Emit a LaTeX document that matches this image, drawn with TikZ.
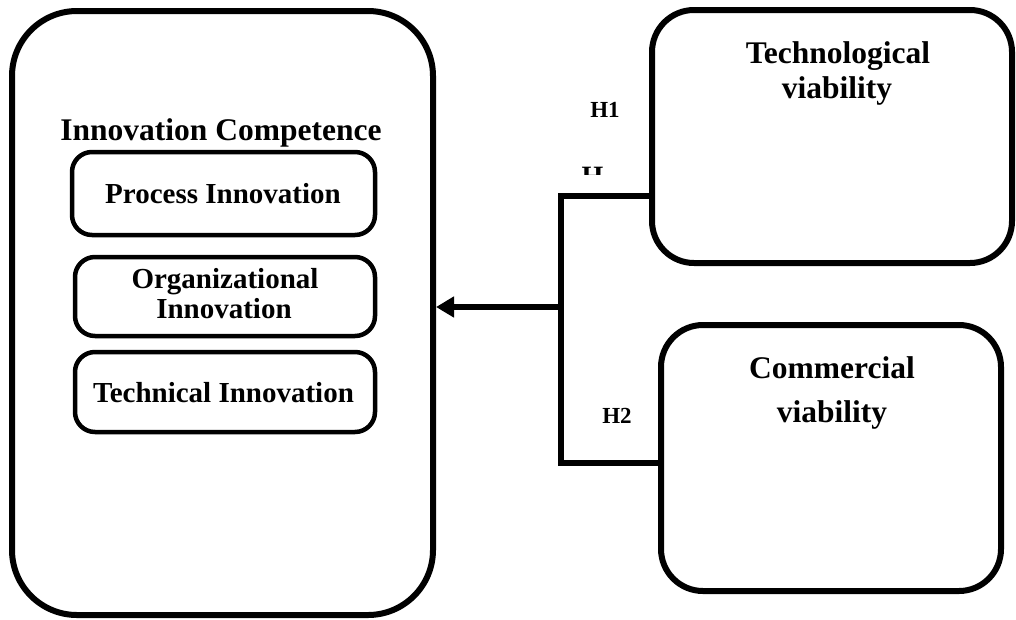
\documentclass[tikz,border=0pt]{standalone}
\usepackage{fontspec}
\setmainfont{Liberation Serif}
\usetikzlibrary{arrows.meta}
\begin{document}
\begin{tikzpicture}[x=1pt,y=-1pt,
  bigbox/.style={draw, line width=6pt, rounded corners=#1, inner sep=0pt},
  subbox/.style={draw, line width=4.5pt, rounded corners=20pt, inner sep=0pt},
  txt/.style={anchor=base, inner sep=0pt, font=\bfseries\fontsize{#1}{#1}\selectfont},
  conn/.style={line width=6pt, line cap=rect},
  arr/.style={line width=6pt, -{Triangle[length=18pt,width=20pt]}}]
\useasboundingbox[fill=white] (0,0) rectangle (1016,619);

% main boxes
\node[bigbox=65pt, minimum width=421pt, minimum height=604pt] (ic) at (222.5,313) {};
\node[bigbox=42pt, minimum width=360pt, minimum height=253pt] (tv) at (832,136.5) {};
\node[bigbox=42pt, minimum width=340pt, minimum height=266pt] (cv) at (831,458) {};

% inner boxes
\node[subbox, minimum width=303pt, minimum height=83pt] (pi) at (223.5,193.5) {};
\node[subbox, minimum width=300pt, minimum height=79pt] (oi) at (225,296.5) {};
\node[subbox, minimum width=300pt, minimum height=80pt] (ti) at (225,392) {};

% texts
\node[txt=31.5] (ict) at (221,140) {Innovation Competence};
\node[txt=29] (pit) at (223,203) {Process Innovation};
\node[txt=29] (oit1) at (225,288) {Organizational};
\node[txt=29] (oit2) at (224,318) {Innovation};
\node[txt=29] (tit) at (223.5,402) {Technical Innovation};
\node[txt=31.5] (tvt1) at (838,63) {Technological};
\node[txt=31.5] (tvt2) at (837,98) {viability};
\node[txt=31.5] (cvt1) at (832,378) {Commercial};
\node[txt=31.5] (cvt2) at (832,422) {viability};
\node[txt=23] (h1) at (605,117) {H1};
\node[txt=23] (h2) at (617,423) {H2};
\begin{scope}
  \clip (575,160) rectangle (612,174);
  \node[txt=28] (hcut) at (592.5,185.5) {H};
\end{scope}

% connectors
\coordinate (j1) at (561,196);
\coordinate (j2) at (561,463);
\coordinate (jm) at (561,307);
\draw[conn] (tv.west |- j1) -- (j1) -- (j2) -- (cv.west |- j2);
\draw[arr] (jm) -- (ic.east |- jm);
\end{tikzpicture}
\end{document}
